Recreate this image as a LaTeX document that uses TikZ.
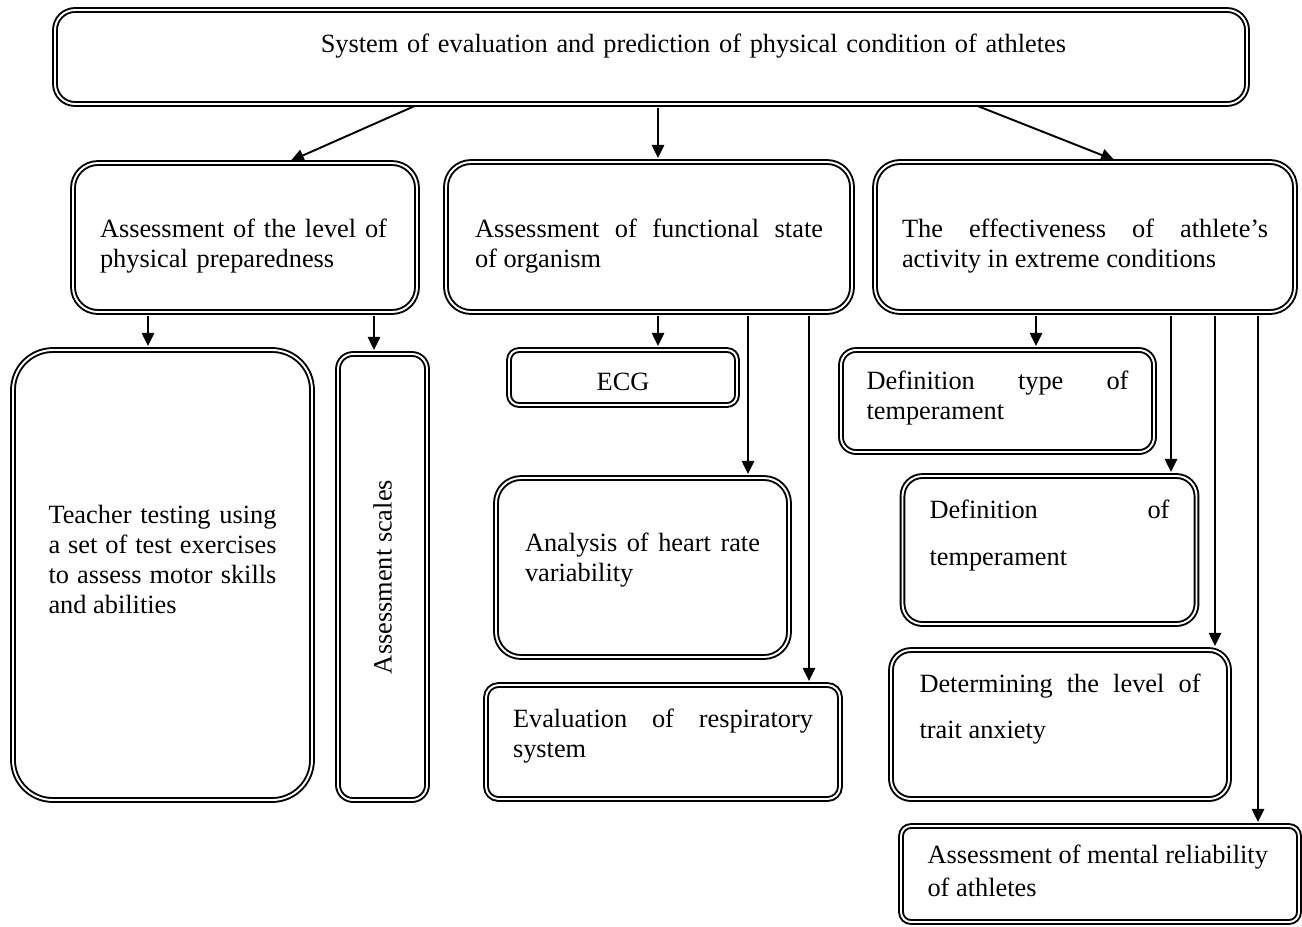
\documentclass[tikz,border=0pt]{standalone}
\usepackage{graphicx}
\usepackage{fontspec}
\setmainfont{Liberation Serif}
\usetikzlibrary{arrows.meta}

\tikzset{
	box/.style={draw=black, double, double distance=1.1pt, line width=1.1pt, rounded corners=#1, align=justify, inner sep=0pt},
	box/.default=0.3cm,
	arr/.style={-{Triangle[length=7.5pt,width=7pt]}, line width=1.1pt, shorten >=1.7pt, shorten <=1.7pt},
	liftby/.style={text height=0pt, text depth=#1},
}

\begin{document}
\begin{tikzpicture}[font=\fontsize{15pt}{17.1pt}\selectfont]
	\useasboundingbox (0,0) rectangle (26.04,-18.52);

	\node[box=0.4cm, minimum width=23.84cm, minimum height=1.88cm, text width=16.6cm, align=right, liftby=0.2cm] (sys) at (13.02,-1.14) {System of evaluation and prediction of physical condition of athletes};

	\node[box=0.5cm, minimum width=6.88cm, minimum height=2.98cm, text width=5.8cm, align=left, liftby=0pt] (prep) at (4.90,-4.75) {Assessment of the level of\\physical preparedness};
	\node[box=0.5cm, minimum width=8.12cm, minimum height=3.0cm, text width=6.96cm, liftby=0pt] (func) at (12.98,-4.74) {Assessment of functional state\linebreak of organism};
	\node[box=0.5cm, minimum width=8.40cm, minimum height=3.0cm, text width=7.32cm, liftby=0pt] (extr) at (21.70,-4.74) {The effectiveness of athlete's\linebreak activity in extreme conditions};

	\node[box=0.8cm, minimum width=5.98cm, minimum height=9.0cm, text width=4.56cm, liftby=2.08cm] (teach) at (3.25,-11.50) {Teacher testing using\linebreak a set of test exercises\linebreak to assess motor skills\linebreak and abilities};
	\node[box=0.3cm, minimum width=1.78cm, minimum height=8.92cm, align=center] (scal) at (7.65,-11.54) {\rotatebox{90}{Assessment scales}};

	\node[box=0.2cm, minimum width=4.56cm, minimum height=1.10cm, align=center, text height=0.5cm, text depth=0pt] (ecg) at (12.46,-7.55) {ECG};
	\node[box=0.5cm, minimum width=5.86cm, minimum height=3.58cm, text width=4.7cm, liftby=0.66cm] (hrv) at (12.85,-11.35) {Analysis of heart rate\linebreak variability};
	\node[box=0.25cm, minimum width=7.08cm, minimum height=2.28cm, text width=6.0cm, liftby=0.6cm] (resp) at (13.26,-14.84) {Evaluation of respiratory\linebreak system};

	\node[box=0.3cm, minimum width=6.26cm, minimum height=2.04cm, text width=5.24cm, liftby=0.48cm] (type) at (19.95,-8.02) {Definition type of\linebreak temperament};
	\node[box=0.4cm, minimum width=5.88cm, minimum height=2.96cm, text width=4.8cm, liftby=1.28cm] (temp) at (20.99,-11.0) {Definition \hfill of\\[0.34cm]temperament};
	\node[box=0.4cm, minimum width=6.76cm, minimum height=2.98cm, text width=5.62cm, liftby=1.3cm] (anx) at (21.20,-14.49) {Determining \hfill the \hfill level \hfill of\\[0.32cm]trait anxiety};
	\node[box=0.2cm, minimum width=7.96cm, minimum height=1.92cm, text width=6.9cm, liftby=0.44cm] (ment) at (22.00,-17.48) {Assessment of mental reliability\\[2pt]of athletes};

	% where the arrows meet the boxes
	\coordinate (sL) at (8.34, 0);
	\coordinate (eL) at (5.76, 0);
	\coordinate (cM) at (13.16, 0);
	\coordinate (sR) at (19.50, 0);
	\coordinate (eR) at (22.34, 0);
	\coordinate (xTeach) at (2.96, 0);
	\coordinate (xScal) at (7.48, 0);
	\coordinate (xHrv) at (14.96, 0);
	\coordinate (xResp) at (16.18, 0);
	\coordinate (xType) at (20.72, 0);
	\coordinate (xTemp) at (23.42, 0);
	\coordinate (xAnx) at (24.30, 0);
	\coordinate (xMent) at (25.16, 0);

	\path[arr] (sys.south -| sL) edge (prep.north -| eL);
	\path[arr] (sys.south -| cM) edge (func.north -| cM);
	\path[arr] (sys.south -| sR) edge (extr.north -| eR);

	\path[arr] (prep.south -| xTeach) edge (teach.north -| xTeach);
	\path[arr] (prep.south -| xScal) edge (scal.north -| xScal);

	\path[arr] (func.south -| cM) edge (ecg.north -| cM);
	\path[arr] (func.south -| xHrv) edge (hrv.north -| xHrv);
	\path[arr] (func.south -| xResp) edge (resp.north -| xResp);

	\path[arr] (extr.south -| xType) edge (type.north -| xType);
	\path[arr] (extr.south -| xTemp) edge (temp.north -| xTemp);
	\path[arr] (extr.south -| xAnx) edge (anx.north -| xAnx);
	\path[arr] (extr.south -| xMent) edge (ment.north -| xMent);

\end{tikzpicture}
\end{document}
